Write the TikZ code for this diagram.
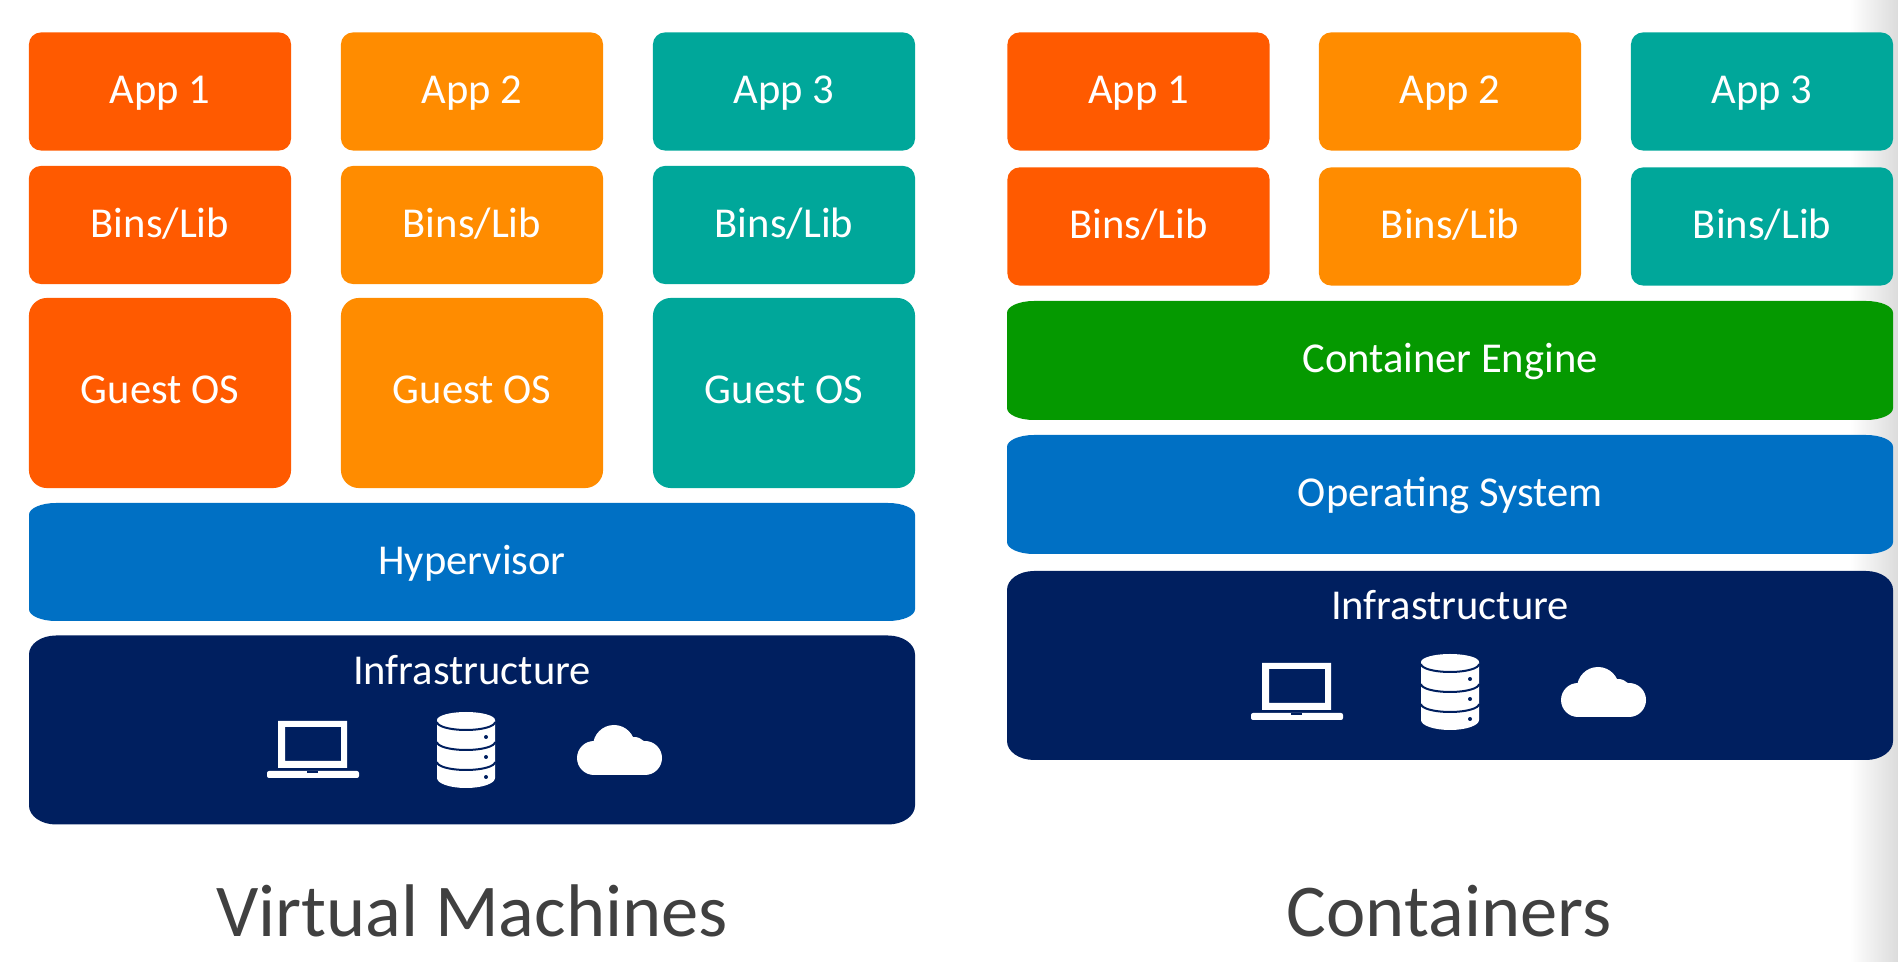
\documentclass[tikz,border=0pt]{standalone}
\usepackage{fontspec}
\setmainfont{Carlito}
\definecolor{apporange}{HTML}{FF5A00}
\definecolor{appamber}{HTML}{FF8C00}
\definecolor{appteal}{HTML}{00A79A}
\definecolor{enginegreen}{HTML}{059900}
\definecolor{layerblue}{HTML}{0070C4}
\definecolor{infranavy}{HTML}{001F5F}
\definecolor{titlegray}{HTML}{404040}
\tikzset{
  box/.style={rounded corners=0.12cm, text=white, font=\fontsize{12.1pt}{13pt}\selectfont, inner sep=0pt, text height=8.6pt, text depth=1.6pt},
  smallbox/.style={box, minimum width=2.62cm, minimum height=1.18cm},
  guestbox/.style={box, rounded corners=0.18cm, text height=7.6pt, minimum width=2.62cm, minimum height=1.9cm},
  title/.style={text=titlegray, font=\fontsize{21.2pt}{26pt}\selectfont},
  infrastructure/.pic={
    % laptop
    \fill [white, even odd rule] (278,-721) rectangle (347,-768) (285,-727) rectangle (341,-761);
    \fill [white, rounded corners=0.02cm] (267,-771) rectangle (359,-778);
    \fill [infranavy] (307,-771) rectangle (318,-773);
    % database
    \fill [white] (437,-720) arc (180:0:29 and 8) -- (495,-778) arc (0:-180:29 and 10) -- cycle;
    \draw [infranavy, line width=0.02cm] (437,-722) arc (180:360:29 and 8);
    \draw [infranavy, line width=0.02cm] (437,-742) arc (180:360:29 and 8);
    \draw [infranavy, line width=0.02cm] (437,-762) arc (180:360:29 and 8);
    \fill [infranavy] (486,-737) circle (2);
    \fill [infranavy] (486,-757) circle (2);
    \fill [infranavy] (486,-777) circle (2);
    % cloud
    \fill [white] (594,-758) circle (17);
    \fill [white] (614,-746) circle (21);
    \fill [white] (634,-751) circle (14);
    \fill [white] (645,-758) circle (17);
    \fill [white] (594,-755) rectangle (645,-775);
  }
}
% wide layer: name, centre x, centre y, height, colour, text
\newcommand{\layerbox}[6]{
  \fill [#5, shift={(#2,#3)}] (-443,#4/2-#4*0.1) arc (180:90:27 and #4*0.1) -- (416,#4/2) arc (90:0:27 and #4*0.1)
    -- (443,-#4/2+#4*0.1) arc (0:-90:27 and #4*0.1) -- (-416,-#4/2) arc (-90:-180:27 and #4*0.1) -- cycle;
  \node [box, minimum width=8.86cm, minimum height=#4*0.01cm] (#1) at (#2,#3) {#6};
}
\begin{document}
\begin{tikzpicture}[x=0.01cm,y=0.01cm]
\useasboundingbox (0,0) rectangle (1898,-962);
\shade [left color=white, right color=black!14] (1850,0) rectangle (1898,-962);
% virtual machines
\node [smallbox, fill=apporange] (vmapp1) at (160,-91.5) {App 1};
\node [smallbox, fill=appamber] (vmapp2) at (472,-91.5) {App 2};
\node [smallbox, fill=appteal] (vmapp3) at (784,-91.5) {App 3};
\node [smallbox, fill=apporange] (vmbins1) at (160,-225) {Bins/Lib};
\node [smallbox, fill=appamber] (vmbins2) at (472,-225) {Bins/Lib};
\node [smallbox, fill=appteal] (vmbins3) at (784,-225) {Bins/Lib};
\node [guestbox, fill=apporange] (vmos1) at (160,-393) {Guest OS};
\node [guestbox, fill=appamber] (vmos2) at (472,-393) {Guest OS};
\node [guestbox, fill=appteal] (vmos3) at (784,-393) {Guest OS};
\layerbox{hypervisor}{472}{-562}{118}{layerblue}{Hypervisor}
\layerbox{vminfra}{472}{-730}{189}{infranavy}{}
\node [box] (vminfratext) at (472,-672) {Infrastructure};
\pic at (0,0) {infrastructure};
\node [title] (vmtitle) at (472,-911) {Virtual Machines};
% containers
\node [smallbox, fill=apporange] (ctapp1) at (1138.5,-91.5) {App 1};
\node [smallbox, fill=appamber] (ctapp2) at (1450,-91.5) {App 2};
\node [smallbox, fill=appteal] (ctapp3) at (1762,-91.5) {App 3};
\node [smallbox, fill=apporange] (ctbins1) at (1138.5,-226.5) {Bins/Lib};
\node [smallbox, fill=appamber] (ctbins2) at (1450,-226.5) {Bins/Lib};
\node [smallbox, fill=appteal] (ctbins3) at (1762,-226.5) {Bins/Lib};
\layerbox{engine}{1450}{-360.5}{119}{enginegreen}{Container Engine}
\layerbox{opsys}{1450}{-494.5}{119}{layerblue}{Operating System}
\layerbox{ctinfra}{1450}{-665.5}{189}{infranavy}{}
\node [box] (ctinfratext) at (1450,-607) {Infrastructure};
\pic at (984,58) {infrastructure};
\node [title] (cttitle) at (1449,-911) {Containers};
\end{tikzpicture}
\end{document}
